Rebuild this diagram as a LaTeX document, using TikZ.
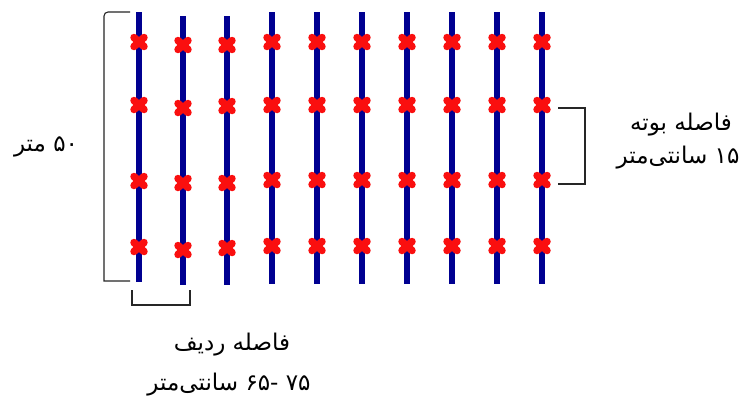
\documentclass[tikz,border=0pt]{standalone}
\usepackage{fontspec}
\newfontfamily\arabicfont[Script=Arabic]{DejaVu Sans}
\TeXXeTstate=1
\definecolor{rowblue}{RGB}{0,0,145}
\definecolor{plantred}{RGB}{250,15,15}
\tikzset{
  rowline/.style={draw=rowblue, line width=6.5pt},
  plant/.style={draw=plantred, line width=7.5pt, line cap=round},
  bracket/.style={draw=black!85, line width=1.1pt},
  lbl/.style={inner sep=0pt, font=\arabicfont\fontsize{23}{27}\selectfont}
}
\newcommand{\plantmark}[2]{\draw[plant] (#1-5,#2-4.5) -- (#1+5,#2+4.5) (#1-5,#2+4.5) -- (#1+5,#2-4.5);}
\begin{document}
\begin{tikzpicture}[x=1pt,y=-1pt]
\useasboundingbox (0,0) rectangle (744,416);
\fill[white] (0,0) rectangle (744,416);
% rows
\draw[rowline] (139,12) -- (139,282);
\draw[rowline] (183,16) -- (183,285);
\draw[rowline] (227,16) -- (227,285);
\foreach \x in {272,317,362,407,452,497,542} {\draw[rowline] (\x,12) -- (\x,284);}
% plants
\foreach \y in {42,105,181,247} {\plantmark{139}{\y}}
\foreach \y in {45,108,183,250} {\plantmark{183}{\y}}
\foreach \y in {45,106,183,248} {\plantmark{227}{\y}}
\foreach \x in {272,317,362,407,452,497,542} {
  \foreach \y in {42,105,180,246} {\plantmark{\x}{\y}}
}
% brackets
\draw[bracket] (130,12) -- (108,12) to[out=180,in=90] (104,16) -- (104,281) -- (130,281);
\draw[bracket] (132,290) -- (132,305) -- (190,305) -- (190,290);
\draw[bracket] (558,108) -- (585,108) -- (585,184) -- (558,184);
% labels
\node[lbl] (len) at (46,147) {\beginR ۵۰ متر\endR};
\node[lbl] (pl1) at (681,125) {\beginR فاصله بوته\endR};
\node[lbl] (pl2) at (678,158) {\beginR ۱۵ سانتی‌متر\endR};
\node[lbl] (rw1) at (232,345) {\beginR فاصله ردیف\endR};
\node[lbl] (rw2) at (229,385) {\beginR ۷۵ -۶۵ سانتی‌متر\endR};
\end{tikzpicture}
\end{document}
